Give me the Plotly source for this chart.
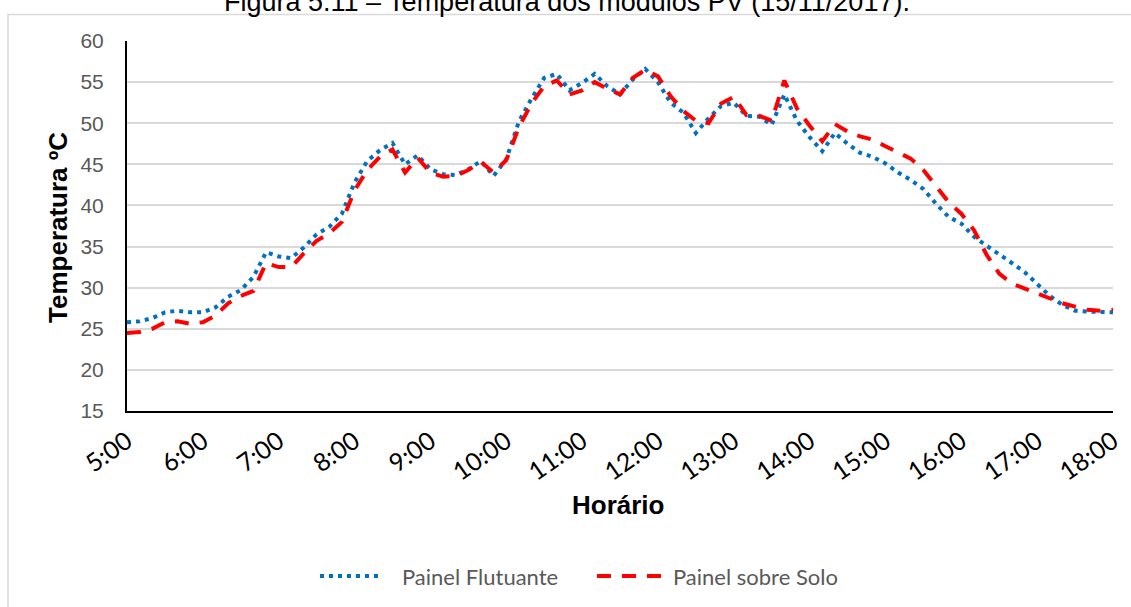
import pandas as pd
import plotly.graph_objects as go

# 10-minute readings, 5:00 -> 18:00 (15/11/2017)
times = pd.date_range("2017-11-15 05:00", "2017-11-15 18:00", freq="10min")

painel_flutuante = [
    25.8, 25.9, 26.3, 27.0, 27.2, 27.0, 27.0, 27.6, 28.9, 29.7,   # 5:00-6:30
    31.3, 34.3, 33.8, 33.6, 34.9, 36.5, 37.4, 39.0, 42.8, 45.4,   # 6:40-8:10
    46.7, 47.6, 45.0, 46.1, 44.4, 43.8, 43.7, 44.4, 45.4, 43.6,   # 8:20-9:50
    45.6, 50.2, 53.0, 55.5, 56.0, 54.0, 54.9, 56.0, 54.5, 53.5,   # 10:00-11:30
    55.3, 56.6, 55.0, 52.5, 51.3, 48.8, 50.6, 52.1, 52.5, 50.9,   # 11:40-13:10
    50.8, 49.8, 53.5, 50.3, 48.3, 46.6, 48.8, 47.5, 46.4, 45.9,   # 13:20-14:50
    45.1, 44.0, 43.1, 42.0, 40.2, 38.6, 37.8, 36.2, 35.1, 34.1,   # 15:00-16:30
    33.0, 31.9, 30.5, 29.0, 27.9, 27.2, 27.1, 27.0, 27.0,         # 16:40-18:00
]

painel_solo = [
    24.5, 24.6, 25.0, 25.8, 25.9, 25.6, 25.8, 26.6, 28.1, 29.0,   # 5:00-6:30
    29.6, 33.0, 32.5, 32.5, 34.2, 35.7, 36.6, 38.0, 41.8, 44.3,   # 6:40-8:10
    45.9, 46.8, 44.0, 45.8, 44.0, 43.5, 43.6, 44.3, 45.3, 44.0,   # 8:20-9:50
    45.5, 49.5, 52.4, 54.5, 55.2, 53.5, 54.0, 55.0, 54.2, 53.5,   # 10:00-11:30
    55.5, 56.5, 55.7, 53.3, 51.5, 50.3, 50.0, 52.4, 53.2, 51.0,   # 11:40-13:10
    50.9, 50.3, 55.2, 51.8, 49.7, 47.8, 49.9, 49.0, 48.4, 48.0,   # 13:20-14:50
    47.2, 46.5, 45.7, 44.3, 42.4, 40.4, 39.0, 37.0, 34.0, 31.7,   # 15:00-16:30
    30.5, 29.9, 29.4, 28.8, 28.1, 27.7, 27.3, 27.2, 27.3,         # 16:40-18:00
]

tick_labels = ["5:00", "6:00", "7:00", "8:00", "9:00", "10:00", "11:00",
               "12:00", "13:00", "14:00", "15:00", "16:00", "17:00", "18:00"]
tick_vals = pd.date_range("2017-11-15 05:00", "2017-11-15 18:00", freq="1h")

series_names = ["Painel Flutuante", "Painel sobre Solo"]
series_colors = ["#0070C0", "#FF0000"]
series_dash = ["4px,5px", "14px,11px"]
title_text = "Figura 5.11 – Temperatura dos módulos PV (15/11/2017)."
y_title = "Temperatura ºC"
x_title = "Horário"

fig = go.Figure()
for name, vals, col, dash in zip(series_names, [painel_flutuante, painel_solo],
                                 series_colors, series_dash):
    fig.add_trace(go.Scatter(
        x=times, y=vals, mode="lines", name=name, showlegend=False,
        line=dict(color=col, width=4, dash=dash),
    ))

W, H = 1131, 607
L, R, T, B = 127, 18, 40.5, 195.5
pw, ph = W - L - R, H - T - B

def px_x(x):
    return (x - L) / pw

def px_y(y):
    return (H - B - y) / ph

# manual legend (wider spacing like the original)
legend_y = 577
legend_items = [
    (320, 383, 400),   # line x0, line x1, text x  (Painel Flutuante)
    (597, 668, 671),   # (Painel sobre Solo)
]
shapes = [
    dict(type="rect", xref="paper", yref="paper",
         x0=px_x(8), x1=px_x(1140), y0=px_y(620), y1=px_y(14),
         line=dict(color="#D9D9D9", width=1.5), fillcolor="rgba(0,0,0,0)",
         layer="below"),
]
annotations = [
    dict(text="<b>" + y_title + "</b>", xref="paper", yref="paper",
         x=px_x(58), y=px_y(228), textangle=-90, showarrow=False,
         xanchor="center", yanchor="middle",
         font=dict(family="Liberation Sans", size=26, color="#000000")),
    dict(text="<b>" + x_title + "</b>", xref="paper", yref="paper",
         x=px_x(618), y=px_y(506), showarrow=False,
         xanchor="center", yanchor="middle",
         font=dict(family="Liberation Sans", size=26, color="#000000")),
    dict(text=title_text, xref="paper", yref="paper",
         x=px_x(567), y=px_y(1), showarrow=False,
         xanchor="center", yanchor="middle",
         font=dict(family="Liberation Sans", size=27, color="#000000")),
]
for (x0, x1, xt), name, col, dash in zip(legend_items, series_names,
                                         series_colors, series_dash):
    shapes.append(dict(type="line", xref="paper", yref="paper",
                       x0=px_x(x0), x1=px_x(x1), y0=px_y(legend_y), y1=px_y(legend_y),
                       line=dict(color=col, width=4, dash=dash)))
    annotations.append(dict(text=name, xref="paper", yref="paper",
                            x=px_x(xt), y=px_y(legend_y), showarrow=False,
                            xanchor="left", yanchor="middle",
                            font=dict(family="Lato", size=22, color="#595959")))

fig.update_layout(
    width=W, height=H,
    margin=dict(l=L, r=R, t=T, b=B),
    paper_bgcolor="white", plot_bgcolor="white",
    showlegend=False,
    xaxis=dict(
        type="date",
        range=[times[0], times[-1]],
        tickvals=list(tick_vals), ticktext=tick_labels,
        tickangle=-35,
        tickfont=dict(family="Lato", size=25, color="#000000"),
        showgrid=False, zeroline=False,
        showline=True, linecolor="#000000", linewidth=2,
        ticks="", automargin=False,
        ticklabelstandoff=4,
    ),
    yaxis=dict(
        range=[15, 60], tick0=15, dtick=5,
        tickfont=dict(family="Liberation Sans", size=21, color="#595959"),
        showgrid=True, gridcolor="#D9D9D9", gridwidth=2,
        zeroline=False,
        showline=True, linecolor="#000000", linewidth=2,
        ticks="", ticklabelstandoff=17, automargin=False,
    ),
    annotations=annotations,
    shapes=shapes,
)

fig.write_html(
    "out.html",
    config={"displayModeBar": False},
    post_script="document.body.style.margin='0';document.body.style.overflow='hidden';",
)
